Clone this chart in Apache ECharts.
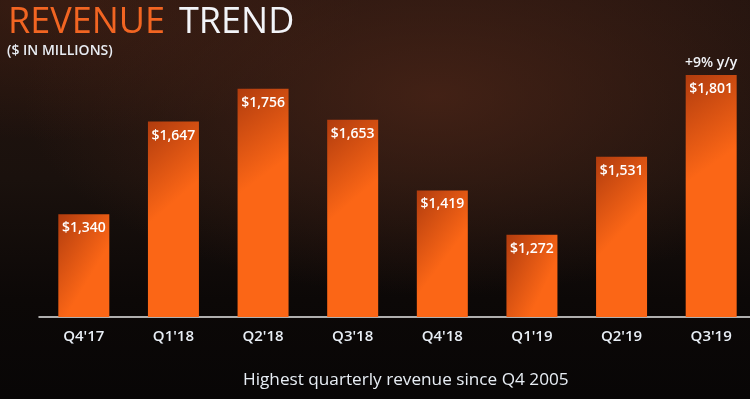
<!DOCTYPE html>
<html>
<head>
<meta charset="utf-8">
<script src="https://cdn.jsdelivr.net/npm/echarts@6/dist/echarts.min.js"></script>
<style>
  html, body { margin: 0; padding: 0; background: #0a0706; }
  #main {
    width: 750px; height: 399px;
    background:
      radial-gradient(ellipse 55% 50% at 58% 24%, rgba(78,38,24,0.75), rgba(0,0,0,0) 100%),
      radial-gradient(ellipse 40% 35% at 8% 0%, rgba(70,34,20,0.6), rgba(0,0,0,0) 100%),
      linear-gradient(to bottom, #24140f 0%, #1a110d 45%, #0c0807 75%, #080606 100%);
  }
</style>
</head>
<body>
<div id="main"></div>
<script>
// quarters and revenue ($M)
var quarters = ["Q4'17", "Q1'18", "Q2'18", "Q3'18", "Q4'18", "Q1'19", "Q2'19", "Q3'19"];
var revenue = [1340, 1647, 1756, 1653, 1419, 1272, 1531, 1801];
var growthNote = '+9% y/y';

var chart = echarts.init(document.getElementById('main'), null, { width: 750, height: 399 });

var fontFam = '"Open Sans", "Noto Sans", sans-serif';

var option = {
  animation: false,
  backgroundColor: 'transparent',
  title: [
    {
      text: '{a|REVENUE}{b|TREND}',
      left: 3, top: 0,
      textStyle: {
        rich: {
          a: { color: '#f26522', fontSize: 36, fontWeight: 'normal', fontFamily: fontFam },
          b: { color: '#f2f4f8', fontSize: 36, fontWeight: 'normal', fontFamily: fontFam, padding: [0, 0, 0, 14] }
        }
      }
    },
    {
      text: '($ IN MILLIONS)',
      left: 2, top: 39,
      textStyle: { color: '#e8ecf2', fontSize: 14, fontWeight: 600, fontFamily: fontFam }
    },
    {
      text: 'Highest quarterly revenue since Q4 2005',
      left: 238, top: 367,
      textStyle: { color: '#e8eef5', fontSize: 17.2, fontWeight: 'normal', fontFamily: fontFam }
    }
  ],
  grid: { left: 39, right: -6, top: 15, bottom: 82, outerBoundsMode: 'none' },
  xAxis: {
    type: 'category',
    data: quarters,
    axisLine: { lineStyle: { color: '#e6e6e6', width: 1.5 } },
    axisTick: { show: false },
    axisLabel: { color: '#e8eef5', fontSize: 15, fontWeight: 600, fontFamily: fontFam, margin: 12 }
  },
  yAxis: {
    type: 'value', min: 1000, max: 2000,
    show: false,
    splitLine: { show: false }
  },
  series: [{
    type: 'bar',
    data: revenue,
    barWidth: 51,
    itemStyle: {
      color: {
        type: 'linear', x: 0, y: 0, x2: 1, y2: 0.3,
        colorStops: [
          { offset: 0, color: '#b13c0e' },
          { offset: 1, color: '#fb6616' }
        ]
      }
    },
    label: {
      show: true,
      position: 'insideTop',
      distance: 7,
      color: '#ffffff',
      fontSize: 14,
      fontWeight: 600,
      fontFamily: fontFam,
      formatter: function (p) { return '$' + p.value.toLocaleString('en-US'); }
    },
    markPoint: {
      symbol: 'rect',
      symbolSize: 0,
      data: [{ coord: [quarters.length - 1, revenue[revenue.length - 1]] }],
      label: {
        show: true,
        position: 'top',
        distance: 5,
        formatter: growthNote,
        color: '#f2f4f8',
        fontSize: 14,
        fontWeight: 600,
        fontFamily: fontFam
      }
    }
  }]
};

chart.setOption(option);
</script>
</body>
</html>
